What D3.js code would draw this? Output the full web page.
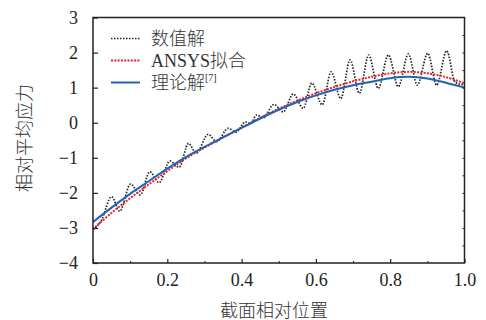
<!DOCTYPE html>
<html><head><meta charset="utf-8">
<script src="https://cdn.jsdelivr.net/npm/d3@7/dist/d3.min.js"></script>
<style>
html,body{margin:0;padding:0;background:#fff;}
text{font-family:"Liberation Serif","Noto Sans CJK SC",serif;fill:#222;}
.cjk{font-weight:300;fill:#333;}
</style></head>
<body><svg id="c" width="486" height="320"></svg>
<script>
// ---- data ----
const xTicks = [0, 0.2, 0.4, 0.6, 0.8, 1.0];
const xTickLabels = ["0", "0.2", "0.4", "0.6", "0.8", "1.0"];
const yTicks = [3, 2, 1, 0, -1, -2, -3, -4];
const yTickLabels = ["3", "2", "1", "0", "−1", "−2", "−3", "−4"];

const smoothX = [0, 0.05, 0.1, 0.15, 0.2, 0.25, 0.3, 0.35, 0.4, 0.45, 0.5, 0.55, 0.6, 0.65, 0.7, 0.75, 0.8, 0.85, 0.9, 0.95, 1.0];
const theory = [-2.83, -2.42, -2.03, -1.67, -1.31, -0.98, -0.69, -0.42, -0.15, 0.12, 0.37, 0.59, 0.78, 0.94, 1.07, 1.17, 1.27, 1.31, 1.26, 1.14, 1.00];
const ansys  = [-3.03, -2.57, -2.15, -1.76, -1.38, -1.02, -0.71, -0.42, -0.14, 0.14, 0.40, 0.63, 0.84, 1.02, 1.18, 1.31, 1.41, 1.45, 1.41, 1.30, 1.12];

const numX = [0, 0.022, 0.050, 0.072, 0.101, 0.127, 0.153, 0.178, 0.207, 0.232, 0.257, 0.278, 0.310, 0.333, 0.364, 0.385, 0.410, 0.425, 0.440, 0.458, 0.487, 0.512, 0.539, 0.566, 0.589, 0.617, 0.641, 0.667, 0.692, 0.717, 0.742, 0.768, 0.795, 0.822, 0.849, 0.873, 0.901, 0.925, 0.952, 0.975, 1.0];
const numY = [-3.05, -2.80, -2.11, -2.52, -1.75, -2.06, -1.40, -1.71, -1.09, -1.27, -0.59, -0.87, -0.33, -0.54, -0.16, -0.27, 0.02, -0.02, 0.22, 0.14, 0.52, 0.31, 0.82, 0.41, 1.13, 0.51, 1.45, 0.69, 1.79, 0.84, 1.93, 0.98, 1.93, 1.03, 1.96, 1.07, 1.98, 1.07, 2.05, 1.15, 1.08];

const legendLabels = ["数值解", "ANSYS拟合", "理论解"];

// ---- drawing ----
const svg = d3.select("#c");
const x = d3.scaleLinear().domain([0, 1]).range([93, 464.5]);
const y = d3.scaleLinear().domain([-4, 3]).range([263, 17.5]);

const line = d3.line().x(d => x(d[0])).y(d => y(d[1]));

// curves
svg.append("path")
  .attr("d", line.curve(d3.curveMonotoneX)(numX.map((v, i) => [v, numY[i]])))
  .attr("fill", "none").attr("stroke", "#222").attr("stroke-width", 1.7)
  .attr("stroke-dasharray", "1.5,1.5");
svg.append("path")
  .attr("d", line.curve(d3.curveCatmullRom)(smoothX.map((v, i) => [v, ansys[i]])))
  .attr("fill", "none").attr("stroke", "#e8222b").attr("stroke-width", 2)
  .attr("stroke-dasharray", "2,1.3");
svg.append("path")
  .attr("d", line.curve(d3.curveCatmullRom)(smoothX.map((v, i) => [v, theory[i]])))
  .attr("fill", "none").attr("stroke", "#1f63b5").attr("stroke-width", 2);

// frame
svg.append("rect").attr("x", x(0)).attr("y", y(3))
  .attr("width", x(1) - x(0)).attr("height", y(-4) - y(3))
  .attr("fill", "none").attr("stroke", "#222").attr("stroke-width", 1.5);

// bottom axis
const xAxis = d3.axisBottom(x).tickValues(xTicks).tickSize(-4)
  .tickFormat((d, i) => xTickLabels[i]).tickPadding(10);
const gx = svg.append("g").attr("transform", `translate(0,${y(-4)})`).call(xAxis);
gx.select(".domain").remove();
gx.selectAll("line").attr("stroke", "#222").attr("stroke-width", 1.2);
gx.selectAll("text").attr("font-size", 18).attr("dy", "0.71em");

// minor bottom ticks
const xMinor = d3.axisBottom(x).tickValues([0.1, 0.3, 0.5, 0.7, 0.9]).tickSize(-2).tickFormat("");
const gxm = svg.append("g").attr("transform", `translate(0,${y(-4)})`).call(xMinor);
gxm.select(".domain").remove();
gxm.selectAll("line").attr("stroke", "#222").attr("stroke-width", 1);

// left axis
const yAxis = d3.axisLeft(y).tickValues(yTicks).tickSize(-5)
  .tickFormat((d, i) => yTickLabels[i]).tickPadding(15);
const gy = svg.append("g").attr("transform", `translate(${x(0)},0)`).call(yAxis);
gy.select(".domain").remove();
gy.selectAll("line").attr("stroke", "#222").attr("stroke-width", 1.2);
gy.selectAll("text").attr("font-size", 18);

// right minor ticks
const yRight = d3.axisRight(y).tickValues(d3.range(-3.5, 3, 0.5)).tickSize(-2).tickFormat("");
const gyr = svg.append("g").attr("transform", `translate(${x(1)},0)`).call(yRight);
gyr.select(".domain").remove();
gyr.selectAll("line").attr("stroke", "#222").attr("stroke-width", 1);

// axis titles
svg.append("text").attr("class", "cjk").attr("x", 274).attr("y", 317).attr("text-anchor", "middle")
  .attr("font-size", 18).text("截面相对位置");
svg.append("text").attr("class", "cjk").attr("transform", "translate(31,138) rotate(-90)")
  .attr("text-anchor", "middle").attr("font-size", 18).text("相对平均应力");

// legend
const legY = [38.5, 60.5, 82.5];
const styles = [
  {stroke: "#222", w: 1.7, dash: "1.5,1.5"},
  {stroke: "#e8222b", w: 2, dash: "2,1.3"},
  {stroke: "#1f63b5", w: 2, dash: null}
];
legendLabels.forEach((lab, i) => {
  svg.append("line").attr("x1", 111).attr("x2", 140).attr("y1", legY[i]).attr("y2", legY[i])
    .attr("stroke", styles[i].stroke).attr("stroke-width", styles[i].w)
    .attr("stroke-dasharray", styles[i].dash);
  const t = svg.append("text").attr("class", "cjk").attr("x", 151).attr("y", legY[i] + 6.5).attr("font-size", 18).text(lab);
  if (i === 2) {
    t.append("tspan").attr("font-size", 10).attr("dy", -8).text("[7]");
  }
});
</script></body></html>
